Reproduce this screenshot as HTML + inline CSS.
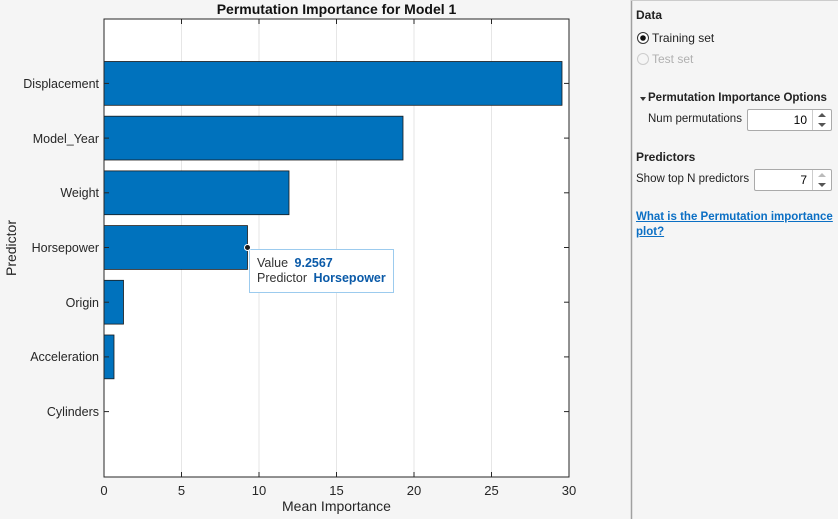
<!DOCTYPE html>
<html><head><meta charset="utf-8"><style>
body{margin:0;width:838px;height:519px;background:#f5f5f5;overflow:hidden;font-family:"Liberation Sans",Arial,sans-serif;position:relative}
svg{position:absolute;left:0;top:0}
.p{position:absolute;font-size:12px;color:#222;white-space:nowrap}
.b{font-weight:bold}
.spin{position:absolute;background:#fff;border:1px solid #aaa;border-radius:2px;font-size:12px;text-align:right;box-sizing:border-box;padding-right:24px;line-height:20px}
.arr{position:absolute;right:0;top:0;width:18px;height:100%;border-left:1px solid #ccc}
</style></head><body>
<svg width="838" height="519">
<rect x="104" y="19" width="465" height="458" fill="#fff"/>
<g stroke="#e6e6e6" stroke-width="1">
<line x1="181.5" y1="19" x2="181.5" y2="477"/><line x1="259" y1="19" x2="259" y2="477"/>
<line x1="336.5" y1="19" x2="336.5" y2="477"/><line x1="414" y1="19" x2="414" y2="477"/>
<line x1="491.5" y1="19" x2="491.5" y2="477"/>
</g>
<g fill="#0072bd" stroke="#1a1a1a" stroke-width="0.8">
<rect x="104" y="61.5" width="458" height="43.8"/>
<rect x="104" y="116.2" width="299" height="43.8"/>
<rect x="104" y="170.9" width="185" height="43.8"/>
<rect x="104" y="225.6" width="143.5" height="43.8"/>
<rect x="104" y="280.3" width="19.5" height="43.8"/>
<rect x="104" y="335" width="10" height="43.8"/>
</g>
<rect x="104" y="19" width="465" height="458" fill="none" stroke="#262626" stroke-width="1"/>
<g stroke="#262626" stroke-width="1">
<line x1="104" y1="83.4" x2="109" y2="83.4"/><line x1="104" y1="138.1" x2="109" y2="138.1"/>
<line x1="104" y1="192.8" x2="109" y2="192.8"/><line x1="104" y1="247.5" x2="109" y2="247.5"/>
<line x1="104" y1="302.2" x2="109" y2="302.2"/><line x1="104" y1="356.9" x2="109" y2="356.9"/>
<line x1="104" y1="411.6" x2="109" y2="411.6"/>
<line x1="564" y1="83.4" x2="569" y2="83.4"/><line x1="564" y1="138.1" x2="569" y2="138.1"/>
<line x1="564" y1="192.8" x2="569" y2="192.8"/><line x1="564" y1="247.5" x2="569" y2="247.5"/>
<line x1="564" y1="302.2" x2="569" y2="302.2"/><line x1="564" y1="356.9" x2="569" y2="356.9"/>
<line x1="564" y1="411.6" x2="569" y2="411.6"/>
<line x1="181.5" y1="477" x2="181.5" y2="472"/><line x1="259" y1="477" x2="259" y2="472"/>
<line x1="336.5" y1="477" x2="336.5" y2="472"/><line x1="414" y1="477" x2="414" y2="472"/>
<line x1="491.5" y1="477" x2="491.5" y2="472"/>
<line x1="181.5" y1="19" x2="181.5" y2="24"/><line x1="259" y1="19" x2="259" y2="24"/>
<line x1="336.5" y1="19" x2="336.5" y2="24"/><line x1="414" y1="19" x2="414" y2="24"/>
<line x1="491.5" y1="19" x2="491.5" y2="24"/>
</g>
<g font-family="Liberation Sans,Arial,sans-serif" font-size="12.5" fill="#262626" text-anchor="end">
<text x="99" y="88">Displacement</text><text x="99" y="143">Model_Year</text>
<text x="99" y="197">Weight</text><text x="99" y="252">Horsepower</text>
<text x="99" y="307">Origin</text><text x="99" y="361">Acceleration</text>
<text x="99" y="416">Cylinders</text>
</g>
<g font-family="Liberation Sans,Arial,sans-serif" font-size="13" fill="#262626" text-anchor="middle">
<text x="104" y="495">0</text><text x="181.5" y="495">5</text><text x="259" y="495">10</text>
<text x="336.5" y="495">15</text><text x="414" y="495">20</text><text x="491.5" y="495">25</text><text x="569" y="495">30</text>
<text x="336.5" y="511" font-size="14">Mean Importance</text>
<text x="336.5" y="14" font-size="14" font-weight="bold" fill="#111">Permutation Importance for Model 1</text>
<text transform="translate(16,248) rotate(-90)" font-size="14">Predictor</text>
</g>
<rect x="249.5" y="249.5" width="144" height="43" fill="#fff" stroke="#9ccbee" stroke-width="1"/>
<circle cx="247.5" cy="247.5" r="3" fill="#1a1a1a" stroke="#fff" stroke-width="1"/>
<g font-family="Liberation Sans,Arial,sans-serif" font-size="12.5">
<text x="257" y="267" fill="#333">Value <tspan fill="#0a5aa8" font-weight="bold" dx="3">9.2567</tspan></text>
<text x="257" y="282" fill="#333">Predictor <tspan fill="#0a5aa8" font-weight="bold" dx="3">Horsepower</tspan></text>
</g>
<line x1="631.5" y1="0" x2="631.5" y2="519" stroke="#a0a0a0" stroke-width="1.5"/>
<line x1="631" y1="0.5" x2="838" y2="0.5" stroke="#ccc"/>
<circle cx="643" cy="38" r="5.5" fill="#fff" stroke="#333"/><circle cx="643" cy="38" r="2.8" fill="#111"/>
<circle cx="643" cy="59" r="5.5" fill="#f5f5f5" stroke="#ccc"/>
<polygon points="640,97 646,97 643,101" fill="#333"/>
</svg>
<div class="p b" style="left:636px;top:8px">Data</div>
<div class="p" style="left:652px;top:31px">Training set</div>
<div class="p" style="left:652px;top:52px;color:#b0b0b0">Test set</div>
<div class="p b" style="left:648px;top:92px;font-size:11.5px">Permutation Importance Options</div>
<div class="p" style="left:648px;top:113px;font-size:11.5px">Num permutations</div>
<div class="spin" style="left:747px;top:109px;width:85px;height:22px">10<div class="arr"><div style="position:absolute;left:5px;top:3px;border:4px solid transparent;border-bottom:4px solid #555;border-top:0"></div><div style="position:absolute;left:5px;top:13px;border:4px solid transparent;border-top:4px solid #555;border-bottom:0"></div></div></div>
<div class="p b" style="left:636px;top:150px">Predictors</div>
<div class="p" style="left:636px;top:173px;font-size:11.5px">Show top N predictors</div>
<div class="spin" style="left:754px;top:169px;width:78px;height:22px">7<div class="arr"><div style="position:absolute;left:5px;top:3px;border:4px solid transparent;border-bottom:4px solid #bbb;border-top:0"></div><div style="position:absolute;left:5px;top:13px;border:4px solid transparent;border-top:4px solid #555;border-bottom:0"></div></div></div>
<div class="p b" style="left:636px;top:210px;color:#0b6fc4;text-decoration:underline;line-height:15px;font-size:11.5px">What is the Permutation importance<br>plot?</div>
</body></html>
